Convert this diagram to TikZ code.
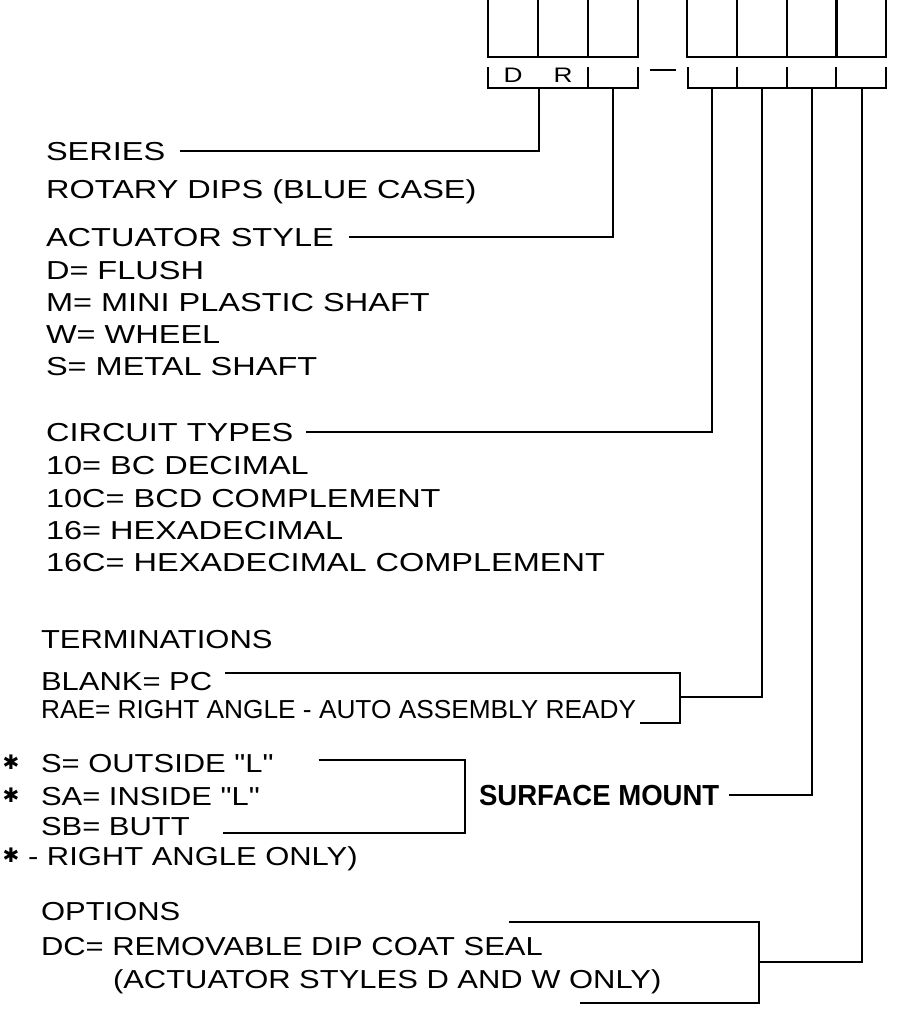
\documentclass[tikz,border=0pt]{standalone}
\usepackage{fontspec}
\usepackage{tikz}
\usetikzlibrary{positioning, calc}
\newfontfamily\cadfont[FakeStretch=1.25]{Liberation Sans}
\newfontfamily\cadlow[FakeStretch=1.19]{Liberation Sans}
\newfontfamily\cadnarrow[FakeStretch=1.01]{Liberation Sans}
\newfontfamily\cadbold[FakeStretch=0.95]{Liberation Sans}
\newfontfamily\starfont{DejaVu Sans}

\begin{document}
\begin{tikzpicture}[
  x=1pt, y=-1pt,
  line width=2.1pt,
  txt/.style={anchor=base west, inner sep=0pt, font=\cadfont\fontsize{26}{30}\selectfont},
  lowtxt/.style={anchor=base west, inner sep=0pt, font=\cadlow\fontsize{26}{30}\selectfont},
  narrowtxt/.style={anchor=base west, inner sep=0pt, font=\cadnarrow\fontsize{26}{30}\selectfont},
  boldtxt/.style={anchor=base west, inner sep=0pt, font=\cadbold\bfseries\fontsize{29}{34}\selectfont},
  star/.style={inner sep=0pt, font=\starfont\bfseries\fontsize{20}{22}\selectfont},
  slot/.style={font=\cadfont\fontsize{21}{24}\selectfont, inner sep=0pt},
  cell/.style={rectangle, draw, minimum width=50pt, minimum height=62pt, inner sep=0pt},
  lead/.style={line width=2.1pt}
]
\useasboundingbox (0,0) rectangle (898,1017);

% Part number boxes
\foreach \i/\x in {1/513, 2/563, 3/613}
  \node[cell] (a\i) at (\x,26) {};
\foreach \i/\x in {1/712, 2/762, 3/812, 4/861}
  \node[cell, minimum width=49.5pt] (b\i) at (\x,26) {};

% Slot brackets
\draw (488,67) -- (488,88) -- (638,88) -- (638,67);
\draw (588,67) -- (588,88);
\draw (688,67) -- (688,88) -- (886,88) -- (886,67);
\foreach \x in {737, 787, 836}
  \draw (\x,67) -- (\x,88);
\node[slot] (slotD) at (513,75) {D};
\node[slot] (slotR) at (563,75) {R};
\coordinate (dashL) at (650,70);
\coordinate (dashR) at (676,70);
\draw (dashL) -- (dashR);

% Lead points
\coordinate (pos1) at (539,88);
\coordinate (pos2) at (613,88);
\coordinate (pos3) at (712,88);
\coordinate (pos4) at (762,88);
\coordinate (pos5) at (812,88);
\coordinate (pos6) at (862,88);

% Series / actuator / circuit
\node[txt] (series) at (45,160) {SERIES};
\node[txt] (rotary) at (45,198) {ROTARY DIPS (BLUE CASE)};
\node[txt] (actuator) at (45,246) {ACTUATOR STYLE};
\node[txt] (flush) at (45,279) {D= FLUSH};
\node[txt] (mini) at (45,311) {M= MINI PLASTIC SHAFT};
\node[txt] (wheel) at (45,343) {W= WHEEL};
\node[txt] (metal) at (45,375) {S= METAL SHAFT};
\node[txt] (circuit) at (45,441) {CIRCUIT TYPES};
\node[txt] (bc) at (45,474) {10= BC DECIMAL};
\node[txt] (bcd) at (45,507) {10C= BCD COMPLEMENT};
\node[txt] (hex) at (45,539) {16= HEXADECIMAL};
\node[txt] (hexc) at (45,571) {16C= HEXADECIMAL COMPLEMENT};

% Terminations
\node[lowtxt] (term) at (40,648) {TERMINATIONS};
\node[lowtxt] (blank) at (40,690) {BLANK= PC};
\node[narrowtxt] (rae) at (40,718) {RAE= RIGHT ANGLE - AUTO ASSEMBLY READY};

% Surface mount
\node[star] (star1) at (11,762) {✱};
\node[star] (star2) at (11,795) {✱};
\node[star] (star3) at (11,855) {✱};
\node[lowtxt] (outside) at (40,772) {S= OUTSIDE "L"};
\node[lowtxt] (inside) at (40,805) {SA= INSIDE "L"};
\node[lowtxt] (butt) at (40,835) {SB= BUTT};
\node[lowtxt] (rightonly) at (27,865) {- RIGHT ANGLE ONLY)};
\node[boldtxt] (surface) at (478,805) {SURFACE MOUNT};

% Options
\node[lowtxt] (options) at (40,920) {OPTIONS};
\node[lowtxt] (dc) at (40,955) {DC= REMOVABLE DIP COAT SEAL};
\node[lowtxt] (dconly) at (112,988) {(ACTUATOR STYLES D AND W ONLY)};

% Bracket corners
\coordinate (tTop) at (680,673);
\coordinate (tMid) at (680,697);
\coordinate (tBot) at (680,723);
\coordinate (sTop) at (465,760);
\coordinate (sBot) at (465,833);
\coordinate (oTop) at (759,922);
\coordinate (oMid) at (759,962);
\coordinate (oBot) at (759,1003);

% Leads
\draw[lead] ([xshift=14pt]series.east) -| (pos1);
\draw[lead] ([xshift=14pt]actuator.east) -| (pos2);
\draw[lead] ([xshift=12pt]circuit.east) -| (pos3);
\draw[lead] ([xshift=12pt]blank.east |- tTop) -- (tTop) -- (tBot) -- ([xshift=3pt]rae.east |- tBot);
\draw[lead] (tMid) -| (pos4);
\draw[lead] ([xshift=44pt]outside.east |- sTop) -- (sTop) -- (sBot) -- ([xshift=32pt]butt.east |- sBot);
\draw[lead] ([xshift=9pt]surface.east) -| (pos5);
\draw[lead] ([xshift=-35pt]dc.east |- oTop) -- (oTop) -- (oBot) -- ([xshift=-82pt]dconly.east |- oBot);
\draw[lead] (oMid) -| (pos6);

\end{tikzpicture}
\end{document}
